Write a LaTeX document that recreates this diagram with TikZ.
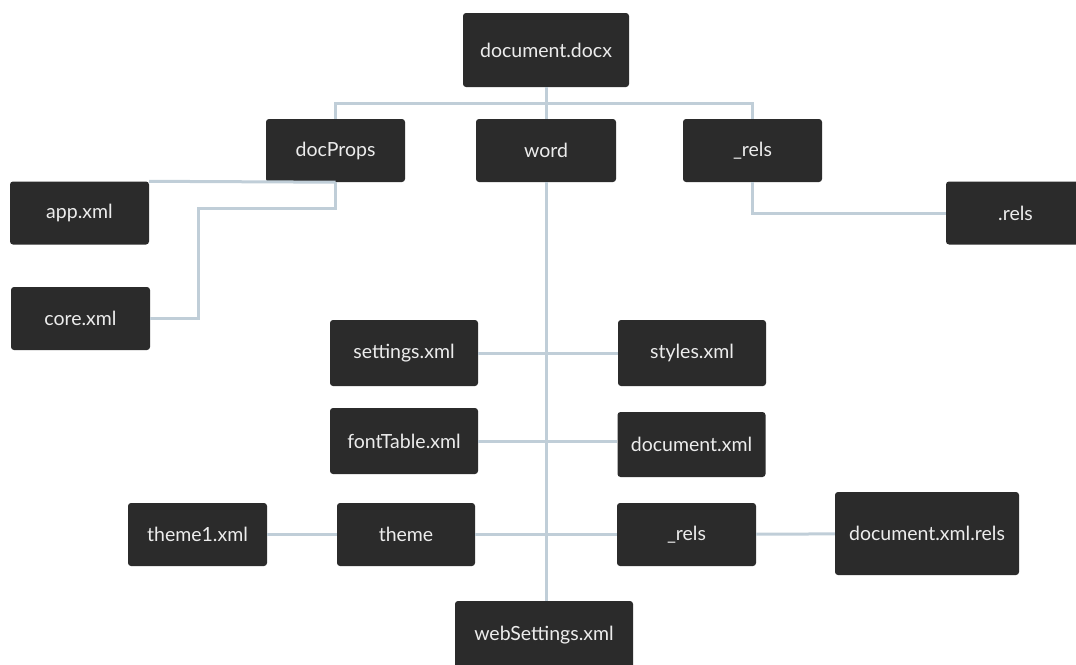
\documentclass[tikz,border=0pt]{standalone}
\usepackage{fontspec}
\setmainfont{Lato}
\usepackage{tikz}
\usetikzlibrary{positioning,calc}
\definecolor{boxclr}{RGB}{43,43,43}
\definecolor{txtclr}{RGB}{236,236,236}
\definecolor{lineclr}{RGB}{192,206,216}
\tikzset{
  file/.style={rectangle,fill=boxclr,text=txtclr,rounded corners=3pt,
               minimum width=139pt,minimum height=63pt,inner sep=2pt,
               font=\fontsize{19.5}{23}\selectfont},
  wide/.style={file,minimum width=148pt,minimum height=66pt},
  link/.style={draw=lineclr,line width=3pt},
}
\begin{document}
\begin{tikzpicture}[x=1pt,y=-1pt]
\useasboundingbox (0,0) rectangle (1076,664);
\node[file,minimum width=166pt,minimum height=74pt] (docx) at (546,50) {document.docx};
\node[file] (docprops) at (335.5,150.5) {docProps};
\node[file,minimum width=140pt] (word) at (546,150.5) {word};
\node[file] (rels) at (752.5,150.5) {\_rels};
\node[file] (app)  at (79.5,213) {app.xml};
\node[file] (core) at (80.5,318.5) {core.xml};
\node[file] (dotrels) at (1015.5,213) {.rels};
\node[wide] (settings)  at (404,353) {settings.xml};
\node[wide] (styles)    at (692,353) {styles.xml};
\node[wide] (fonttable) at (404,441) {fontTable.xml};
\node[wide,minimum height=65pt] (docxml) at (691.5,444.5) {document.xml};
\node[file] (theme1) at (197.5,534.5) {theme1.xml};
\node[file,minimum width=138pt] (theme) at (406,534.5) {theme};
\node[file] (wordrels) at (686.5,534.5) {\_rels};
\node[file,minimum width=184pt,minimum height=83pt] (docxmlrels) at (927,533.5) {document.xml.rels};
\node[file,minimum width=178pt,minimum height=68pt] (websettings) at (544,635) {webSettings.xml};
\coordinate (bus) at (546,103);
\coordinate (elbow) at (198,208);
% top level
\draw[link] (docx) -- (word);
\draw[link] (docprops.north) |- (bus) -| (rels.north);
% docProps
\draw[link] (docprops.south) -- (app.north east);
\draw[link] (docprops.south) |- (elbow) |- (core.east);
% _rels
\draw[link] (rels.south) |- (dotrels.west);
% word
\draw[link] (word.south) -- (word.south |- websettings.north);
\draw[link] (settings) -- (styles);
\draw[link] (fonttable.east) -- (fonttable.east -| docxml.west);
\draw[link] (theme) -- (wordrels);
\draw[link] (theme1) -- (theme);
\draw[link] (wordrels) -- (docxmlrels);
\end{tikzpicture}
\end{document}
